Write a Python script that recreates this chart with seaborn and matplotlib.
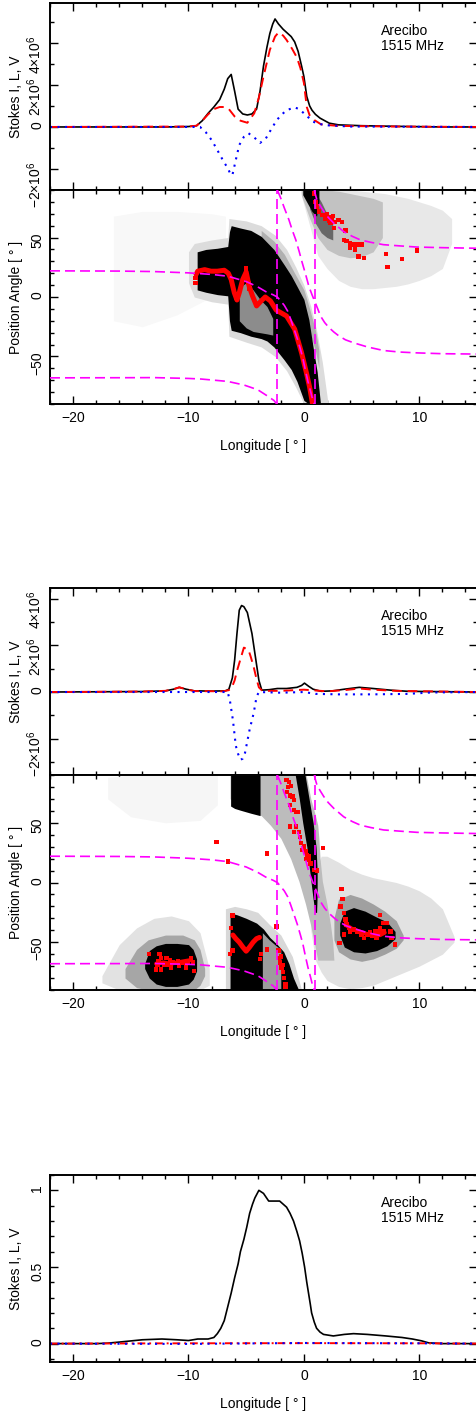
import matplotlib
matplotlib.use("Agg")
import matplotlib.pyplot as plt
import numpy as np
import seaborn as sns
from matplotlib.ticker import MultipleLocator, FuncFormatter

# ---------------- data ----------------
# Stokes profiles, panel 1 (units of 1e6)
s1_i_lon = [-22, -12, -10, -9.3, -8.8, -8.3, -7.8, -7.3, -6.9, -6.6, -6.3, -6.0, -5.7, -5.3, -4.9, -4.5, -4.1, -3.8,
            -3.5, -3.2, -2.95, -2.7, -2.5, -2.2, -1.8, -1.5, -1.1, -0.8, -0.5, -0.2, 0, 0.25, 0.5, 0.7, 1.0, 1.4,
            2.2, 3, 5, 8, 12, 15]
s1_i = [0, 0, 0.02, 0.06, 0.3, 0.65, 0.95, 1.3, 1.8, 2.3, 2.5, 1.7, 0.85, 0.62, 0.57, 0.62, 0.85, 1.7, 2.9, 3.8,
        4.45, 4.9, 5.14, 4.9, 4.65, 4.5, 4.3, 4.05, 3.6, 2.9, 2.4, 1.45, 1.0, 0.8, 0.6, 0.42, 0.18, 0.1, 0.06, 0.03,
        0.0, 0.0]
s1_l_lon = [-22, -10, -9.3, -8.8, -8.3, -7.8, -7.3, -6.9, -6.5, -6.0, -5.5, -4.9, -4.3, -3.9, -3.5, -2.95, -2.5,
            -2.2, -1.8, -1.5, -1.0, -0.6, -0.3, 0, 0.25, 0.5, 0.9, 1.5, 3, 8, 15]
s1_l = [0, 0.02, 0.06, 0.3, 0.6, 0.85, 0.95, 0.95, 0.85, 0.5, 0.3, 0.2, 0.65, 1.4, 2.4, 3.67, 4.3, 4.5, 4.35, 4.14,
        3.7, 3.3, 2.8, 2.1, 0.95, 0.55, 0.33, 0.12, 0.05, 0.02, 0]
s1_v_lon = [-22, -9, -8.5, -8.0, -7.6, -7.2, -6.9, -6.6, -6.4, -6.2, -5.9, -5.6, -5.2, -4.8, -4.3, -3.8, -3.3,
            -2.95, -2.35, -1.9, -1.5, -0.8, -0.4, 0, 0.4, 0.8, 1.3, 2, 4, 15]
s1_v = [0, 0, -0.25, -0.62, -1.0, -1.4, -1.7, -1.95, -2.2, -2.3, -1.57, -0.86, -0.47, -0.3, -0.5, -0.76, -0.55,
        -0.22, 0.33, 0.6, 0.8, 0.93, 0.85, 0.65, 0.45, 0.25, 0.15, 0.08, 0.02, 0]

# Stokes profiles, panel 2 (units of 1e6)
s2_i_lon = [-22, -14, -12, -11.3, -10.8, -10.2, -9.5, -8, -6.8, -6.5, -6.2, -6.0, -5.8, -5.6, -5.4, -5.2, -4.9,
            -4.5, -4.2, -3.9, -3.65, -3.0, -2.3, -1.5, -0.6, -0.2, 0.05, 0.4, 0.8, 1.5, 2.5, 3.5, 4.8, 6, 7.5, 9, 15]
s2_i = [0, 0.02, 0.05, 0.12, 0.2, 0.12, 0.05, 0.04, 0.05, 0.12, 0.6, 1.37, 2.5, 3.5, 3.7, 3.65, 3.4, 2.5, 1.5,
        0.5, 0.08, 0.1, 0.15, 0.15, 0.2, 0.28, 0.38, 0.25, 0.12, 0.03, 0.05, 0.12, 0.2, 0.15, 0.08, 0.03, 0]
s2_l_lon = [-22, -14, -12, -11.3, -10.8, -10.2, -9.5, -7, -6.5, -6.2, -6.0, -5.8, -5.5, -5.2, -4.8, -4.6, -4.35,
            -4.1, -3.9, -3.6, -2, 0, 2, 3.5, 4.8, 6, 8, 15]
s2_l = [0, 0.02, 0.05, 0.12, 0.2, 0.12, 0.04, 0.03, 0.08, 0.25, 0.5, 0.9, 1.4, 1.9, 1.8, 1.5, 1.07, 0.55, 0.2,
        0.05, 0.05, 0.1, 0.03, 0.08, 0.15, 0.1, 0.05, 0]
s2_v_lon = [-22, -6.6, -6.4, -6.15, -5.9, -5.7, -5.5, -5.3, -5.1, -4.9, -4.7, -4.5, -4.35, -4.1, -3.9, -2, 0, 1,
            3, 6, 9, 11, 15]
s2_v = [0, 0, -0.4, -1.2, -2.3, -2.65, -2.9, -2.85, -2.6, -2.1, -1.6, -1.2, -0.9, -0.2, 0, -0.03, 0, -0.08, -0.1,
        -0.1, -0.08, -0.02, 0]

# Stokes profile, panel 3 (normalised)
s3_i_lon = [-22, -18, -17, -16, -14, -12.3, -11, -10, -9.2, -8.3, -7.8, -7.5, -7.2, -6.9, -6.6, -6.3, -6.0, -5.7,
            -5.5, -5.2, -4.95, -4.7, -4.45, -4.25, -3.9, -3.5, -3.05, -2.6, -2.1, -1.5, -1.2, -0.9, -0.6, -0.37,
            -0.15, 0.06, 0.25, 0.4, 0.55, 0.67, 0.9, 1.1, 1.4, 1.7, 2.55, 3.5, 4.3, 5.5, 7.1, 8.5, 9.4, 10.2, 10.8,
            12, 15]
s3_i = [0, 0, 0.003, 0.01, 0.025, 0.03, 0.025, 0.02, 0.03, 0.03, 0.04, 0.065, 0.1, 0.15, 0.24, 0.33, 0.43, 0.52,
        0.6, 0.68, 0.76, 0.85, 0.91, 0.95, 1.0, 0.98, 0.93, 0.93, 0.93, 0.89, 0.85, 0.8, 0.73, 0.67, 0.59, 0.5,
        0.4, 0.33, 0.26, 0.2, 0.14, 0.1, 0.075, 0.06, 0.05, 0.06, 0.065, 0.06, 0.05, 0.04, 0.03, 0.018, 0.005, 0, 0]
s3_l_lon = [-22, -10, 0, 10, 15]
s3_l = [0, 0.002, 0.003, 0.002, 0]
s3_v_lon = [-22, -10, 0, 10, 15]
s3_v = [0, -0.002, 0.004, 0.002, 0]

# RVM fit curves (same fit drawn in both PA panels)
rvm_a1_lon = [-22, -16, -13, -10, -8, -6.6, -5.0, -4.0, -3.3, -2.7, -2.3, -2.0, -1.7, -1.4, -1.15, -0.85, -0.57,
              -0.3, -0.1, 0.14, 0.35, 0.57, 0.75, 0.9]
rvm_a1_pa = [22, 21.8, 21.4, 20.3, 19, 17.5, 13, 8.5, 4.5, 2, 0, -3.5, -7, -12, -18.6, -27, -35, -44, -51, -62,
             -71, -79, -86, -90]
rvm_a2_lon = [0.9, 1.0, 1.15, 1.4, 1.72, 2.1, 2.6, 3.45, 4.2, 4.9, 5.8, 6.9, 8.3, 9.8, 12, 15]
rvm_a2_pa = [90, 86, 81, 77, 72, 67, 62, 55, 51, 48, 46, 44, 43, 42, 41.5, 41]
rvm_b1_lon = [-22, -16, -13, -10, -8.9, -6.6, -5.2, -4.0, -3.2, -2.6, -2.35]
rvm_b1_pa = [-68, -67.9, -67.8, -68.5, -69, -71, -74, -78, -83, -87, -90]
rvm_b2_lon = [-2.3, -2.0, -1.7, -1.3, -1.0, -0.7, -0.4, -0.15, 0.15, 0.43, 0.7, 0.93, 1.2, 1.44, 1.8, 2.15, 2.6,
              3.0, 3.6, 4.3, 5.5, 6.9, 8.3, 9.8, 12, 15]
rvm_b2_pa = [90, 83, 75, 65, 56, 48, 38, 29, 19, 9, 2, -3.5, -10, -16, -21.5, -25.5, -29.5, -32.5, -36, -38.5,
             -42, -45, -46.3, -47, -47.7, -48]
rvm_vlines = [-2.3, 0.97]

# single-pulse PA density, panel 1 (grey regions: lon, upper PA, lower PA)
pa1_faint_lon = [-16.5, -14, -11, -8, -6.8]
pa1_faint_hi = [68, 72, 72, 70, 68]
pa1_faint_lo = [-20, -25, -15, 0, 40]
pa1_halo_lon = [-10.0, -9.5, -8, -6.6, -6.5, -5, -3.7, -2.5, -1.5, -0.7, 0, 0.6, 1.1, 1.6, 2.1]
pa1_halo_hi = [38, 45, 48, 50, 66, 64, 60, 52, 40, 25, 10, -8, -28, -55, -90]
pa1_halo_lo = [12, 0, -4, -6, -33, -38, -42, -50, -62, -76, -90, -90, -90, -90, -90]
pa1_mid_lon = [-3.7, -2.6, -1.7, -0.8, 0, 0.5, 1.0, 1.3]
pa1_mid_hi = [56, 47, 36, 20, 6, -10, -28, -45]
pa1_mid_lo = [40, 30, 15, 0, -15, -30, -45, -60]
pa1_core_lon = [-9.25, -8.5, -7.5, -6.6, -6.45, -6.3, -5.5, -4.6, -3.7, -3.2, -2.6, -1.7, -1.1, -0.6, 0.0, 0.43,
                0.86, 1.15, 1.44]
pa1_core_hi = [38, 40, 41, 42.5, 55, 60, 58, 56, 51, 46, 40, 27, 18, 9, -2, -19, -46, -63, -90]
pa1_core_lo = [6, 4, 2, 1, -20, -28, -30, -33, -35, -37, -42, -53, -61, -71, -87, -90, -90, -90, -90]
pa1_gap_lon = [-5.6, -5.0, -4.4, -3.8, -3.2, -2.7]
pa1_gap_hi = [8, 12, 6, -2, -8, -18]
pa1_gap_lo = [-20, -26, -29, -30, -31, -32]
pa1_ur_light_lon = [-0.3, 0.5, 1.2, 2, 3, 4, 5, 6, 7, 8, 9, 10, 11, 12, 12.8]
pa1_ur_light_hi = [90, 90, 90, 90, 90, 90, 89, 88, 87, 85, 83, 80, 77, 73, 66]
pa1_ur_light_lo = [88, 60, 35, 24, 14, 9, 7, 7, 8, 9, 11, 14, 18, 24, 45]
pa1_ur_mid_lon = [-0.2, 0.5, 1.2, 2, 3, 4, 5, 6, 6.8]
pa1_ur_mid_hi = [90, 90, 90, 90, 89, 87, 85, 83, 80]
pa1_ur_mid_lo = [85, 66, 50, 40, 35, 33, 34, 38, 50]
pa1_ur_dark_lon = [0.5, 1.0, 1.5, 2.0, 2.5]
pa1_ur_dark_hi = [90, 88, 80, 70, 62]
pa1_ur_dark_lo = [74, 62, 54, 50, 48]
pa1_ur_core_lon = [-0.1, 0.3, 0.7, 1.1, 1.3]
pa1_ur_core_hi = [90, 90, 90, 90, 90]
pa1_ur_core_lo = [86, 79, 72, 68, 80]

# single-pulse PA density, panel 2
pa2_faint_lon = [-17, -15, -12, -9, -7.5]
pa2_faint_hi = [88, 90, 90, 90, 90]
pa2_faint_lo = [70, 55, 50, 52, 65]
pa2_lb_light_lon = [-17.5, -16, -14.5, -13, -11.5, -10, -9, -8.2]
pa2_lb_light_hi = [-78, -52, -38, -30, -28, -32, -42, -72]
pa2_lb_light_lo = [-84, -90, -90, -90, -90, -90, -90, -86]
pa2_lb_mid_lon = [-15.5, -14.5, -13.5, -12, -10.5, -9.5, -9, -8.6]
pa2_lb_mid_hi = [-72, -56, -48, -44, -44, -48, -56, -72]
pa2_lb_mid_lo = [-80, -88, -90, -90, -90, -90, -86, -78]
pa2_lb_core_lon = [-13.8, -13.4, -12.8, -12, -11, -10, -9.6, -9.3]
pa2_lb_core_hi = [-68, -57, -53, -51, -51, -52, -56, -64]
pa2_lb_core_lo = [-72, -80, -85, -87, -87, -85, -81, -74]
pa2_arc_halo_lon = [-6.8, -6, -5, -4, -3, -2, -1, -0.2]
pa2_arc_halo_hi = [-22, -20, -22, -25, -35, -44, -62, -90]
pa2_arc_halo_lo = [-90, -90, -90, -90, -90, -90, -90, -90]
pa2_arc_lon = [-6.4, -6.2, -5.8, -5.0, -4.1, -3.5, -2.95, -2.3, -1.75, -1.3, -0.9, -0.45]
pa2_arc_hi = [-27, -26, -27, -30, -34, -39, -46, -52, -58, -68, -80, -90]
pa2_arc_lo = [-90, -90, -90, -90, -90, -90, -90, -90, -90, -90, -90, -90]
pa2_arc_gap_lon = [-3.6, -3.0, -2.4, -2.0]
pa2_arc_gap_hi = [-42, -48, -53, -56]
pa2_arc_gap_lo = [-90, -90, -90, -90]
pa2_r_light_lon = [0.6, 1.0, 1.5, 2, 3, 4, 5, 6, 7, 8, 9, 10, 11, 12, 13]
pa2_r_light_hi = [-20, 10, 22, 22, 17, 11, 7, 4, 2, 0, -3, -7, -13, -22, -45]
pa2_r_light_lo = [-40, -65, -75, -82, -87, -89, -88, -86, -82, -78, -74, -70, -65, -60, -50]
pa2_r_mid_lon = [2.6, 3.0, 4, 5, 6, 7, 8, 8.6]
pa2_r_mid_hi = [-30, -14, -10, -13, -18, -24, -32, -44]
pa2_r_mid_lo = [-48, -58, -64, -66, -64, -60, -55, -48]
pa2_r_core_lon = [3.1, 3.5, 4.3, 5.3, 6.3, 7.2, 7.9]
pa2_r_core_hi = [-34, -24, -21, -24, -29, -33, -41]
pa2_r_core_lo = [-44, -54, -58, -59, -57, -53, -47]
pa2_ub_lon = [-6.35, -6.0, -5.5, -4.6, -3.8]
pa2_ub_hi = [90, 90, 90, 90, 90]
pa2_ub_lo = [64, 62, 60.5, 58, 56]
# swath and stripe given as PA -> lon range
pa2_sw_pa = [90, 70, 56, 48, 37, 20, 1, -18, -35, -50, -65]
pa2_sw_left = [-6.4, -6.4, -3.7, -2.9, -2.0, -1.15, -0.43, 0.14, 0.57, 0.9, 1.2]
pa2_sw_right = [0.2, 0.6, 1.0, 1.2, 1.3, 1.4, 1.6, 2.0, 2.3, 2.5, 2.6]
pa2_st_pa = [90, 70, 50, 30, 10, -10, -25]
pa2_st_left = [-0.75, -0.4, -0.1, 0.25, 0.5, 0.75, 0.95]
pa2_st_right = [0.1, 0.45, 0.8, 1.05, 1.15, 1.15, 1.1]

# average PA points
pa1_track_lon = [-9.34, -9.2, -8.6, -8.05, -7.5, -6.9, -6.55, -6.3, -6.03, -5.8, -5.6, -5.3, -5.0, -4.74, -4.45,
                 -4.1, -3.7, -3.35, -2.9, -2.4, -1.5, -0.8, -0.2, 0.2, 0.5, 0.75]
pa1_track_pa = [19, 21.7, 23, 21.7, 21.7, 22.5, 20, 14.7, 3.6, -2.5, 3.6, 14.7, 21, 9, 0.8, -7.5, -3.3, 0, -3.3,
                -11, -16, -27, -47, -63, -76, -90]
pa1_pts_lon = [-9.4, -9.4, -5.0, -4.8, -4.7, 0.86, 1.0, 1.15, 1.3, 1.6, 1.87, 2.15, 2.44, 2.3, 2.7, 3.0, 3.3, 2.6,
               3.6, 3.45, 3.7, 4.0, 4.3, 4.7, 5.0, 4.0, 4.45, 4.74, 5.2, 7.1, 7.24, 8.5, 9.8, 2.0, 2.5, 2.2]
pa1_pts_pa = [12, 16, 24, 12, 7, 87, 80, 76, 72, 69, 66, 67.5, 65, 62, 63, 65, 63, 58, 56, 48, 47, 45, 44, 44, 44,
              41, 40, 34, 33, 36, 25, 32, 39, 70, 68, 64]
pa2_track_lon = [-12.8, -12.2, -11.6, -11.0, -10.4, -9.8, -6.15, -5.9, -5.6, -5.3, -5.0, -4.7, -4.4, -4.1, -3.85]
pa2_track_pa = [-68, -67, -68, -67, -66, -65, -44, -47, -50, -54, -57.5, -54, -50, -47, -46]
pa2_track2_lon = [3.7, 4.2, 4.8, 5.4, 6.0, 6.6, 7.0]
pa2_track2_pa = [-36, -39, -41, -43, -44, -44, -42]
pa2_pts_lon = [-13.4, -12.5, -12.4, -12.8, -12.4, -11.9, -11.8, -11.4, -10.9, -10.5, -10.1, -9.8, -9.6, -9.5,
               -10.2, -10.8, -11.5, -12.1, -12.7, -12.6, -11.6,
               -7.56, -6.55, -3.2, -2.36, -6.2, -6.3, -6.4, -6.2, -3.7, -3.8, -3.2,
               -2.2, -2.0, -2.07, -1.95, -1.8, -1.7, -1.6, -1.6, -2.15, -1.87,
               -1.5, -1.3, -1.4, -1.44, -1.1, -1.2, -1.0, -0.86, -1.2, -0.86, -0.7, -0.57, -1.2, -0.7, -0.86, -0.43,
               -0.34, -0.23, 0, 0.14, -0.14, 0.29, 0.43, 0.57, 0.86, 1.15, 1.67, 0.43, 0.23,
               3.25, 3.36, 3.16, 3.5, 3.6, 3.7, 3.9, 4.0, 4.3, 4.6, 5.0, 5.5, 5.9, 6.3, 6.6, 6.9, 7.2, 6.6, 7.5,
               7.6, 7.9, 3.1, 3.45, 5.2, 5.75, 6.2, 6.5, 6.9]
pa2_pts_pa = [-60, -60, -63, -73, -73, -63, -69, -67, -66, -67, -66, -63, -67, -74,
              -71, -70, -71, -69, -69, -66, -65,
              34, 17.5, 24.4, -36.7, -27.5, -38, -60, -57, -60, -64, -56,
              -57, -62, -67, -71, -75, -80, -85, -87, -63, -69,
              85.6, 84, 80, 76, 81, 73, 72, 69, 65, 60.5, 59, 59, 47, 47, 42.5, 42.5,
              38, 33, 30, 26, 27, 23, 19, 16, 10.5, 10, 29, 21.7, 19.7,
              -5.3, -13.6, -20, -25.6, -31, -35, -38, -41, -39.5, -41, -43.6, -43.6, -45, -46.4, -38, -34, -34, -27,
              -41, -46.4, -52, -50.5, -43.6, -46.4, -42, -41, -42, -41]

# ---------------- drawing ----------------
sns.set_style("ticks")
plt.rcParams["font.family"] = ["Liberation Sans", "DejaVu Sans"]
plt.rcParams["mathtext.fontset"] = "custom"
plt.rcParams["mathtext.rm"] = "Liberation Sans"
plt.rcParams["mathtext.it"] = "Liberation Sans:italic"
plt.rcParams["text.color"] = "black"
plt.rcParams["axes.labelcolor"] = "black"

FS = 10
W, H = 476, 1411
fig = plt.figure(figsize=(W / 100, H / 100), dpi=100)


def new_axes(top, bottom):
    return fig.add_axes([50 / W, 1 - bottom / H, 427 / W, (bottom - top) / H])


def style(ax, xlabels):
    ax.set_xlim(-22, 15)
    ax.xaxis.set_major_locator(MultipleLocator(10))
    ax.xaxis.set_minor_locator(MultipleLocator(2))
    ax.tick_params(which="both", direction="in", top=True, right=True, width=1.0, labelsize=FS, pad=5,
                   colors="black")
    ax.tick_params(which="major", length=6)
    ax.tick_params(which="minor", length=3)
    ax.tick_params(axis="y", labelrotation=90, pad=4)
    for s in ax.spines.values():
        s.set_linewidth(1.4)
        s.set_color("black")
    if xlabels:
        ax.set_xlabel("Longitude [ ° ]", fontsize=FS, labelpad=10)
    else:
        ax.tick_params(axis="x", labelbottom=False)


def mega(v, pos):
    m = int(round(v / 1e6))
    if m == 0:
        return "0"
    return r"$%d{\times}10^6$" % m


def stokes(ax, il, iv, ll, lv, vl, vv, scale, lstyle, vstyle):
    sns.lineplot(x=il, y=np.array(iv) * scale, ax=ax, color="black", lw=1.2, sort=False, estimator=None)
    sns.lineplot(x=ll, y=np.array(lv) * scale, ax=ax, color="red", lw=1.4, sort=False, estimator=None,
                 linestyle=lstyle)
    sns.lineplot(x=vl, y=np.array(vv) * scale, ax=ax, color="blue", lw=1.5, sort=False, estimator=None,
                 linestyle=vstyle)
    ax.text(0.775, 0.89, "Arecibo\n1515 MHz", transform=ax.transAxes, fontsize=FS, va="top", ha="left",
            linespacing=1.1)
    ax.set_ylabel("Stokes I, L, V", fontsize=FS)
    ax.yaxis.set_label_coords(-0.063, 0.5)


def fill(ax, lon, hi, lo, color):
    ax.fill_between(lon, lo, hi, color=color, lw=0, zorder=1)


def rvm(ax):
    dash = (0, (6, 3))
    for lx, ly in [(rvm_a1_lon, rvm_a1_pa), (rvm_a2_lon, rvm_a2_pa), (rvm_b1_lon, rvm_b1_pa),
                   (rvm_b2_lon, rvm_b2_pa)]:
        sns.lineplot(x=lx, y=ly, ax=ax, color="#ff00ff", lw=1.2, sort=False, estimator=None, linestyle=dash,
                     zorder=5)
    for v in rvm_vlines:
        ax.axvline(v, color="#ff00ff", lw=1.2, linestyle=dash, zorder=5)


def pa_axes(ax):
    ax.set_ylim(-90, 90)
    ax.yaxis.set_major_locator(MultipleLocator(50))
    ax.yaxis.set_minor_locator(MultipleLocator(10))
    ax.set_ylabel("Position Angle [ ° ]", fontsize=FS)
    ax.yaxis.set_label_coords(-0.063, 0.5)


# panel 1: Stokes
ax1 = new_axes(3, 190)
stokes(ax1, s1_i_lon, s1_i, s1_l_lon, s1_l, s1_v_lon, s1_v, 1e6, (0, (5, 3)), (0, (1, 2.6)))
ax1.set_ylim(-3.0e6, 5.9e6)
ax1.yaxis.set_major_locator(MultipleLocator(2e6))
ax1.yaxis.set_minor_locator(MultipleLocator(1e6))
ax1.yaxis.set_major_formatter(FuncFormatter(mega))
style(ax1, False)

# panel 1: PA
ax2 = new_axes(190, 404)
fill(ax2, pa1_faint_lon, pa1_faint_hi, pa1_faint_lo, "#f8f8f8")
fill(ax2, pa1_halo_lon, pa1_halo_hi, pa1_halo_lo, "#dcdcdc")
fill(ax2, pa1_ur_light_lon, pa1_ur_light_hi, pa1_ur_light_lo, "#e8e8e8")
fill(ax2, pa1_ur_mid_lon, pa1_ur_mid_hi, pa1_ur_mid_lo, "#c2c2c2")
fill(ax2, pa1_ur_dark_lon, pa1_ur_dark_hi, pa1_ur_dark_lo, "#686868")
fill(ax2, pa1_ur_core_lon, pa1_ur_core_hi, pa1_ur_core_lo, "#000000")
fill(ax2, pa1_mid_lon, pa1_mid_hi, pa1_mid_lo, "#b0b0b0")
fill(ax2, pa1_core_lon, pa1_core_hi, pa1_core_lo, "#000000")
fill(ax2, pa1_gap_lon, pa1_gap_hi, pa1_gap_lo, "#8c8c8c")
sns.lineplot(x=pa1_track_lon, y=pa1_track_pa, ax=ax2, color="red", lw=3.6, sort=False, estimator=None, zorder=4)
sns.scatterplot(x=pa1_pts_lon, y=pa1_pts_pa, ax=ax2, color="red", marker="s", s=10, edgecolor="none", zorder=4)
rvm(ax2)
pa_axes(ax2)
style(ax2, True)

# panel 2: Stokes
ax3 = new_axes(588, 775)
stokes(ax3, s2_i_lon, s2_i, s2_l_lon, s2_l, s2_v_lon, s2_v, 1e6, (0, (5, 3)), (0, (1, 2.6)))
ax3.set_ylim(-3.55e6, 4.45e6)
ax3.yaxis.set_major_locator(MultipleLocator(2e6))
ax3.yaxis.set_minor_locator(MultipleLocator(1e6))
ax3.yaxis.set_major_formatter(FuncFormatter(mega))
style(ax3, False)

# panel 2: PA
ax4 = new_axes(775, 990)
fill(ax4, pa2_faint_lon, pa2_faint_hi, pa2_faint_lo, "#f6f6f6")
fill(ax4, pa2_lb_light_lon, pa2_lb_light_hi, pa2_lb_light_lo, "#e2e2e2")
fill(ax4, pa2_lb_mid_lon, pa2_lb_mid_hi, pa2_lb_mid_lo, "#a6a6a6")
fill(ax4, pa2_lb_core_lon, pa2_lb_core_hi, pa2_lb_core_lo, "#000000")
fill(ax4, pa2_r_light_lon, pa2_r_light_hi, pa2_r_light_lo, "#e2e2e2")
fill(ax4, pa2_r_mid_lon, pa2_r_mid_hi, pa2_r_mid_lo, "#a0a0a0")
fill(ax4, pa2_r_core_lon, pa2_r_core_hi, pa2_r_core_lo, "#000000")
fill(ax4, pa2_arc_halo_lon, pa2_arc_halo_hi, pa2_arc_halo_lo, "#d8d8d8")
ax4.fill_betweenx(pa2_sw_pa, pa2_sw_left, pa2_sw_right, color="#bcbcbc", lw=0, zorder=1)
fill(ax4, pa2_arc_lon, pa2_arc_hi, pa2_arc_lo, "#000000")
fill(ax4, pa2_arc_gap_lon, pa2_arc_gap_hi, pa2_arc_gap_lo, "#9c9c9c")
fill(ax4, pa2_ub_lon, pa2_ub_hi, pa2_ub_lo, "#000000")
ax4.fill_betweenx(pa2_st_pa, pa2_st_left, pa2_st_right, color="#000000", lw=0, zorder=1)
sns.lineplot(x=pa2_track_lon[:6], y=pa2_track_pa[:6], ax=ax4, color="red", lw=3.0, sort=False, estimator=None,
             zorder=4)
sns.lineplot(x=pa2_track_lon[6:], y=pa2_track_pa[6:], ax=ax4, color="red", lw=3.6, sort=False, estimator=None,
             zorder=4)
sns.lineplot(x=pa2_track2_lon, y=pa2_track2_pa, ax=ax4, color="red", lw=3.0, sort=False, estimator=None, zorder=4)
sns.scatterplot(x=pa2_pts_lon, y=pa2_pts_pa, ax=ax4, color="red", marker="s", s=10, edgecolor="none", zorder=4)
rvm(ax4)
pa_axes(ax4)
style(ax4, True)

# panel 3: normalised Stokes
ax5 = new_axes(1175, 1362)
stokes(ax5, s3_i_lon, s3_i, s3_l_lon, s3_l, s3_v_lon, s3_v, 1.0, (0, (4, 2, 1, 2)), (0, (1, 2.6)))
ax5.set_ylim(-0.12, 1.1)
ax5.yaxis.set_major_locator(MultipleLocator(0.5))
ax5.yaxis.set_minor_locator(MultipleLocator(0.1))
ax5.yaxis.set_major_formatter(FuncFormatter(lambda v, p: "0" if abs(v) < 1e-9 else ("1" if abs(v - 1) < 1e-9 else "%g" % v)))
style(ax5, True)

fig.savefig("out.png", dpi=100)
